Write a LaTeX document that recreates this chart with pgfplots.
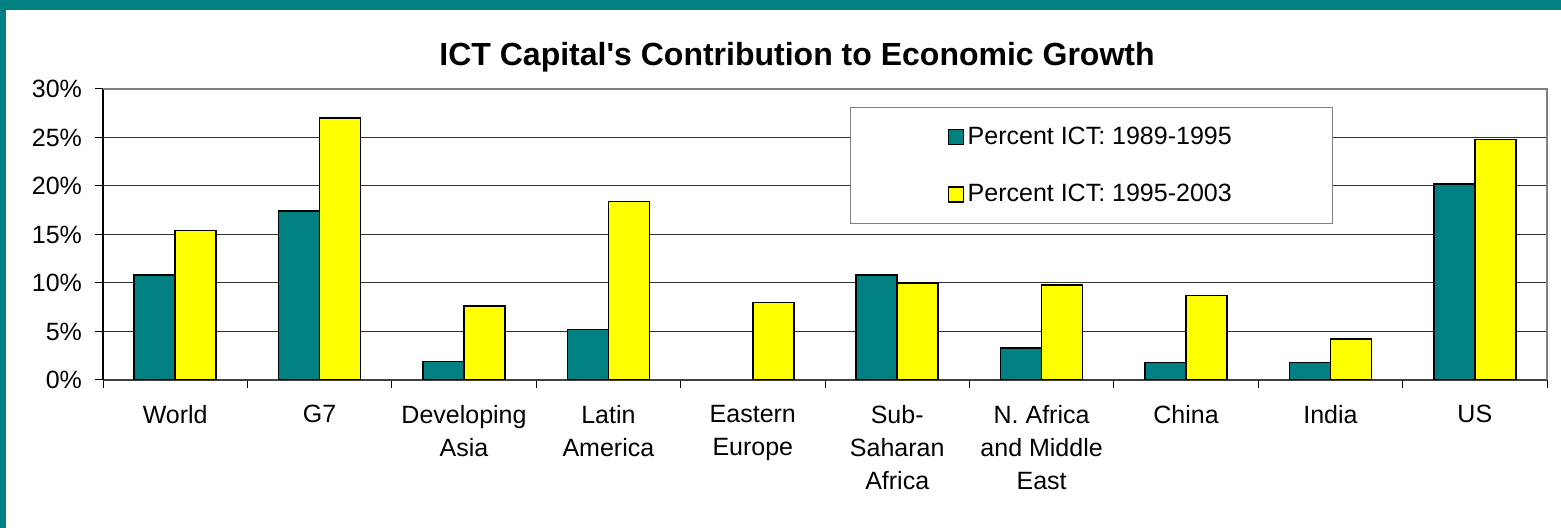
\documentclass[border=0pt]{standalone}
\usepackage{fontspec}
\setmainfont{Liberation Sans}
\usepackage{pgfplots}
\pgfplotsset{compat=1.18}
\definecolor{ictteal}{HTML}{008080}
\definecolor{ictyellow}{HTML}{FFFF00}
\begin{document}
\begin{tikzpicture}
\useasboundingbox (0pt,0pt) rectangle (780.5pt,264pt);
\fill[white] (0pt,0pt) rectangle (780.5pt,264pt);
\fill[ictteal] (0pt,259pt) rectangle (780.5pt,264pt);
\fill[ictteal] (0pt,0pt) rectangle (3pt,264pt);
\node[font=\bfseries\fontsize{16}{19}\selectfont] at (398.5pt,235.5pt)
  {ICT Capital\textquotesingle s Contribution to Economic Growth};
\begin{axis}[
  at={(51.5pt,74pt)}, anchor=south west,
  scale only axis, width=722pt, height=145.5pt,
  ybar=0pt, bar width=20.5pt,
  xmin=-0.5, xmax=9.5, ymin=0, ymax=30,
  axis lines*=left,
  x axis line style={black!75, line width=1pt},
  y axis line style={black, line width=0.7pt},
  tick align=outside,
  major tick length=4pt, minor tick length=4pt,
  xtick={0,...,9},
  xticklabels={World, G7, {Developing\\Asia}, {Latin\\America}, {Eastern\\Europe},
    {Sub-\\Saharan\\Africa}, {N. Africa\\and Middle\\East}, China, India, US},
  minor xtick={-0.5,0.5,...,9.5},
  major x tick style={draw=none},
  minor x tick style={black, line width=0.5pt},
  ytick={0,5,...,30},
  yticklabels={0\%,5\%,10\%,15\%,20\%,25\%,30\%},
  ytick style={black, line width=0.5pt},
  ticklabel style={font=\fontsize{12.5}{16.5}\selectfont},
  xticklabel style={align=center, anchor=north, yshift=-5pt},
  yticklabel style={xshift=-3pt},
  ymajorgrids, major grid style={black!80, line width=0.5pt},
  legend style={at={(0.5173,0.938)}, anchor=north west, draw=gray, line width=0.6pt,
    inner xsep=48.5pt, inner ysep=9.5pt, row sep=18.5pt,
    nodes={inner ysep=0pt, inner xsep=1.75pt},
    font=\fontsize{12.5}{15}\selectfont},
  legend cell align=left,
  legend image code/.code={\draw[#1] (0pt,-3.75pt) rectangle (7.5pt,3.75pt);},
  after end axis/.code={\draw[gray, line width=0.8pt] (rel axis cs:0,1) -- (rel axis cs:1,1) -- (rel axis cs:1,0);},
]
\addplot[fill=ictteal, draw=black, line width=0.8pt] coordinates {
  (0,10.8) (1,17.4) (2,1.9) (3,5.2) (5,10.8) (6,3.3) (7,1.8) (8,1.8) (9,20.2)
};
\addplot[fill=ictyellow, draw=black, line width=0.8pt] coordinates {
  (0,15.4) (1,27.0) (2,7.6) (3,18.4) (4,8.0) (5,10.0) (6,9.8) (7,8.7) (8,4.2) (9,24.8)
};
\legend{Percent ICT: 1989-1995, Percent ICT: 1995-2003}
\end{axis}
\end{tikzpicture}
\end{document}
